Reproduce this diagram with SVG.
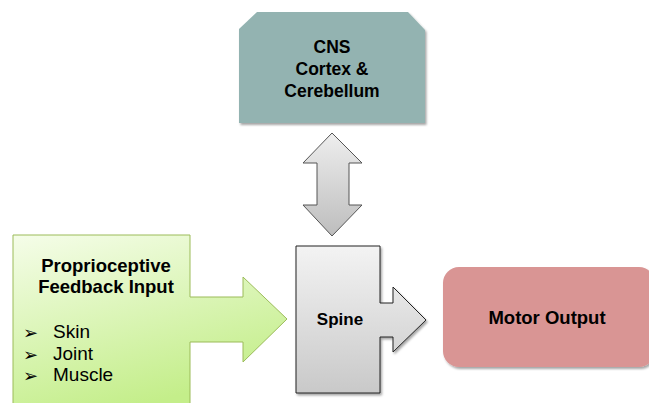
<svg xmlns="http://www.w3.org/2000/svg" width="649" height="403" viewBox="0 0 649 403">
<style>
.t{font-family:"Liberation Sans",Arial,sans-serif;font-weight:bold;fill:#000;text-anchor:middle}
.r{font-family:"Liberation Sans",Arial,sans-serif;font-size:19px;fill:#000}
.b{font-family:"DejaVu Sans",sans-serif;font-size:18px;fill:#000}
</style>
<defs>
<linearGradient id="gGreen" x1="0" y1="0" x2="0.4" y2="1">
<stop offset="0" stop-color="#F5FDE9"/>
<stop offset="1" stop-color="#C4EE8A"/>
</linearGradient>
<linearGradient id="gGray" x1="0" y1="0" x2="0" y2="1">
<stop offset="0" stop-color="#F3F3F3"/>
<stop offset="1" stop-color="#C9C9C9"/>
</linearGradient>
<linearGradient id="gGray2" x1="0" y1="0" x2="0" y2="1">
<stop offset="0" stop-color="#EEEEEE"/>
<stop offset="1" stop-color="#BDBDBD"/>
</linearGradient>
<filter id="sh" x="-10%" y="-10%" width="130%" height="130%">
<feDropShadow dx="1.5" dy="2" stdDeviation="1" flood-color="#000" flood-opacity="0.35"/>
</filter>
</defs>
<g id="cns">
<polygon points="257,12 408,12 425,30 425,123 239,123 239,29" fill="#93B3B1" filter="url(#sh)"/>
<text class="t" font-size="17.5" x="332" y="53">CNS</text>
<text class="t" font-size="17.5" x="332" y="75">Cortex &amp;</text>
<text class="t" font-size="17.5" x="332" y="97">Cerebellum</text>
</g>
<g id="connectors">
<polygon points="332,133 362,163 349,163 349,205 362,205 332,236 303,205 317,205 317,163 303,163" fill="url(#gGray2)" stroke="#555" stroke-width="1"/>
</g>
<g id="proprioceptive">
<polygon points="13,235 190,235 190,297 243,297 243,277 287,319 243,362 243,342 190,342 190,410 13,410" fill="url(#gGreen)" stroke="#9BBB59" stroke-width="1"/>
<text class="t" font-size="18.5" x="106" y="272">Proprioceptive</text>
<text class="t" font-size="18.5" x="106" y="293">Feedback Input</text>
<text class="b" x="23" y="339">➢</text>
<text class="r" x="53" y="338">Skin</text>
<text class="b" x="23" y="361">➢</text>
<text class="r" x="53" y="360">Joint</text>
<text class="b" x="23" y="382">➢</text>
<text class="r" x="53" y="381">Muscle</text>
</g>
<g id="spine">
<polygon points="296,246 380,246 380,303 393,303 393,287 426,320 393,352 393,337 380,337 380,393 296,393" fill="url(#gGray)" stroke="#222" stroke-width="1" filter="url(#sh)"/>
<text class="t" font-size="17" x="340" y="325">Spine</text>
</g>
<g id="motor">
<rect x="443" y="267" width="212" height="100" rx="16" fill="#D99594" filter="url(#sh)"/>
<text class="t" font-size="18.5" x="547" y="324">Motor Output</text>
</g>
</svg>
